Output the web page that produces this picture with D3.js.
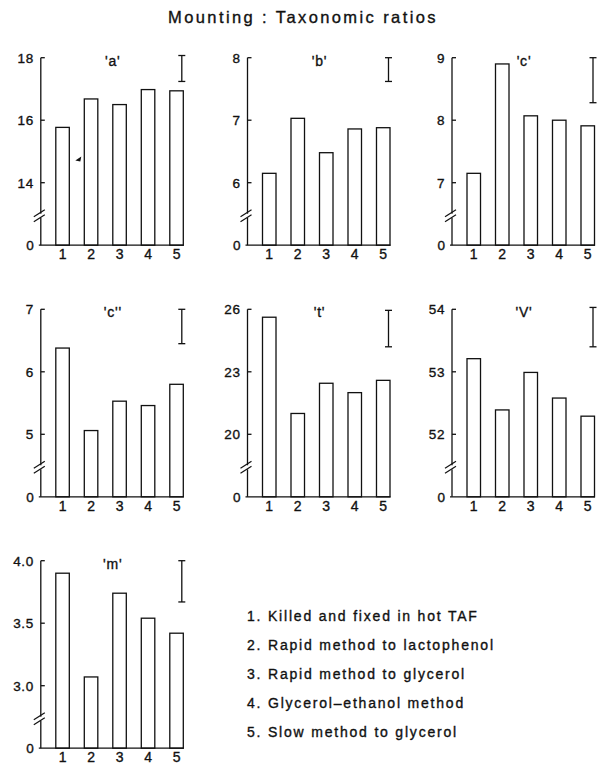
<!DOCTYPE html>
<html>
<head>
<meta charset="utf-8">
<script src="https://cdn.jsdelivr.net/npm/d3@7"></script>
<style>
  html, body { margin: 0; padding: 0; background: #fff; }
  svg { display: block; }
  text {
    font-family: "Liberation Sans", Arial, Helvetica, sans-serif;
    fill: #111;
    stroke: #111;
    stroke-width: 0.35px;
  }
</style>
</head>
<body>
<svg id="chart" width="607" height="765"></svg>
<script>
// Mounting methods shown along each x axis
const methods = [1, 2, 3, 4, 5];

// Mean ratio per mounting method, one array per taxonomic ratio
const aValues  = [15.77, 16.68, 16.50, 16.98, 16.94];
const bValues  = [6.15, 7.03, 6.48, 6.86, 6.88];
const cValues  = [7.15, 8.90, 8.07, 8.00, 7.91];
const c2Values = [6.38, 5.06, 5.53, 5.46, 5.80];
const tValues  = [25.62, 21.00, 22.45, 22.00, 22.59];
const vValues  = [53.21, 52.39, 52.99, 52.58, 52.29];
const mValues  = [3.90, 3.07, 3.74, 3.54, 3.42];

// Tick labels above the axis break (the lower end of each axis is 0)
const aTicks  = ["14", "16", "18"];
const bTicks  = ["6", "7", "8"];
const cTicks  = ["7", "8", "9"];
const c2Ticks = ["5", "6", "7"];
const tTicks  = ["20", "23", "26"];
const vTicks  = ["52", "53", "54"];
const mTicks  = ["3.0", "3.5", "4.0"];

// Least-significant-difference bar: [bottom, top]
const aRange  = [17.24, 18.07];
const bRange  = [7.62, 8.00];
const cRange  = [8.28, 9.00];
const c2Range = [6.45, 7.00];
const tRange  = [24.20, 25.95];
const vRange  = [53.40, 54.03];
const mRange  = [3.67, 4.00];

const panelNames = ["'a'", "'b'", "'c'", "'c''", "'t'", "'V'", "'m'"];

const legendItems = [
  "1. Killed and fixed in hot TAF",
  "2. Rapid method to lactophenol",
  "3. Rapid method to glycerol",
  "4. Glycerol\u2013ethanol method",
  "5. Slow method to glycerol"
];

const panels = [
  { values: aValues,  ticks: aTicks,  range: aRange },
  { values: bValues,  ticks: bTicks,  range: bRange },
  { values: cValues,  ticks: cTicks,  range: cRange },
  { values: c2Values, ticks: c2Ticks, range: c2Range },
  { values: tValues,  ticks: tTicks,  range: tRange },
  { values: vValues,  ticks: vTicks,  range: vRange },
  { values: mValues,  ticks: mTicks,  range: mRange }
].map((p, i) => ({ ...p, name: panelNames[i] }));

// ---- layout ----
const colX = [40.8, 247.5, 452];      // y-axis position of each column
const rowTop = [57.7, 309.3, 560.7];  // y of the highest tick in each row
const tickStep = 62.5;                // distance between labelled ticks
const zeroOffset = 187.5;             // from highest tick down to 0
const breakOffset = 160;              // axis break position
const axisWidth = 143;                // length of the x axis

const svg = d3.select("#chart");

svg.append("text")
  .attr("x", 303)
  .attr("y", 23)
  .attr("text-anchor", "middle")
  .style("font-size", "16.5px")
  .style("letter-spacing", "2.4px")
  .text("Mounting : Taxonomic ratios");

const x = d3.scaleBand()
  .domain(methods)
  .range([15, 142.5])
  .paddingInner(0.526)
  .paddingOuter(0);

panels.forEach((p, i) => {
  const col = i % 3, row = Math.floor(i / 3);
  const g = svg.append("g")
    .attr("transform", `translate(${colX[col]},${rowTop[row]})`);

  const lo = +p.ticks[0], hi = +p.ticks[2];
  const y = d3.scaleLinear().domain([lo, hi]).range([2 * tickStep, 0]);
  const zeroY = zeroOffset;

  // bars from the baseline up to the mean value
  g.selectAll("rect.bar")
    .data(p.values)
    .join("rect")
    .attr("class", "bar")
    .attr("x", (d, j) => x(methods[j]))
    .attr("width", x.bandwidth())
    .attr("y", d => y(d))
    .attr("height", d => zeroY - y(d))
    .attr("fill", "#fff")
    .attr("stroke", "#111")
    .attr("stroke-width", 1.3);

  // y axis line
  g.append("line")
    .attr("x1", 0).attr("x2", 0)
    .attr("y1", y(hi)).attr("y2", zeroY)
    .attr("stroke", "#111").attr("stroke-width", 1.3);

  // x axis line
  g.append("line")
    .attr("x1", -2).attr("x2", axisWidth)
    .attr("y1", zeroY).attr("y2", zeroY)
    .attr("stroke", "#111").attr("stroke-width", 1.3);

  // y ticks (inward) and labels
  p.ticks.forEach(t => {
    const ty = y(+t);
    g.append("line")
      .attr("x1", 0).attr("x2", 4)
      .attr("y1", ty).attr("y2", ty)
      .attr("stroke", "#111").attr("stroke-width", 1.3);
    g.append("text")
      .attr("x", -7).attr("y", ty)
      .attr("dy", "0.36em")
      .attr("text-anchor", "end")
      .style("font-size", "13.5px")
      .style("letter-spacing", "0.6px")
      .text(t);
  });
  g.append("text")
    .attr("x", -7).attr("y", zeroY)
    .attr("dy", "0.36em")
    .attr("text-anchor", "end")
    .style("font-size", "13.5px")
    .text("0");

  // axis break: two parallel slashes across the axis
  const gap = g.append("g");
  gap.append("rect")
    .attr("x", -1.5).attr("y", breakOffset - 4)
    .attr("width", 3).attr("height", 4)
    .attr("fill", "#fff");
  [0, 5].forEach(k => {
    gap.append("line")
      .attr("x1", -7).attr("y1", breakOffset + 4 - k)
      .attr("x2", 4).attr("y2", breakOffset - 3 - k)
      .attr("stroke", "#111").attr("stroke-width", 1.2);
  });

  // x labels
  g.selectAll("text.xl")
    .data(methods)
    .join("text")
    .attr("class", "xl")
    .attr("x", d => x(d) + x.bandwidth() / 2)
    .attr("y", zeroY + 14)
    .attr("text-anchor", "middle")
    .style("font-size", "14px")
    .text(d => d);

  // panel title
  g.append("text")
    .attr("x", 72).attr("y", 8)
    .attr("text-anchor", "middle")
    .style("font-size", "14px")
    .style("letter-spacing", "0.8px")
    .text(p.name);

  // LSD bar
  const ex = 141;
  const e = g.append("g").attr("stroke", "#111").attr("stroke-width", 1.3);
  e.append("line").attr("x1", ex).attr("x2", ex)
    .attr("y1", y(p.range[1])).attr("y2", y(p.range[0]));
  p.range.forEach(v => {
    e.append("line").attr("x1", ex - 3.5).attr("x2", ex + 3.5)
      .attr("y1", y(v)).attr("y2", y(v));
  });

  // small arrowhead beside the first bar of the 'a' panel
  if (i === 0) {
    g.append("path")
      .attr("d", `M${x(1) + x.bandwidth() + 6},${y(p.values[0]) + 33}
                  l6,-4 l-1,5 z`)
      .attr("fill", "#111");
  }
});

// legend of mounting methods
svg.append("g")
  .selectAll("text")
  .data(legendItems)
  .join("text")
  .attr("x", 247)
  .attr("y", (d, i) => 616 + 29 * i)
  .attr("dy", "0.36em")
  .style("font-size", "14px")
  .style("letter-spacing", "1.8px")
  .text(d => d);
</script>
</body>
</html>
